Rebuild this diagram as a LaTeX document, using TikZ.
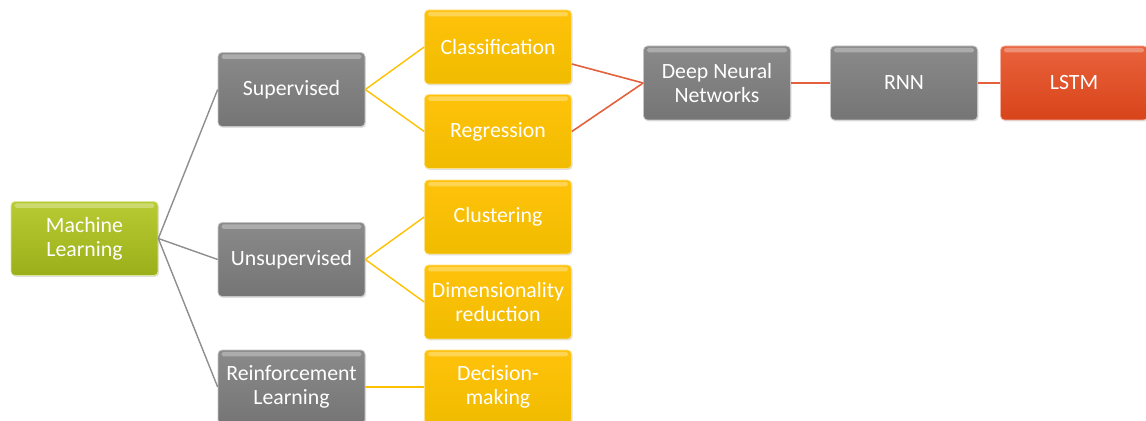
\documentclass[tikz,border=0pt]{standalone}
\usepackage{fontspec}
\setmainfont{Carlito}
\usetikzlibrary{calc,shadows}

\definecolor{gruenoben}{HTML}{B9CB33}
\definecolor{gruenunten}{HTML}{9AAF1A}
\definecolor{grauoben}{HTML}{8A8A8A}
\definecolor{grauunten}{HTML}{757575}
\definecolor{gelboben}{HTML}{FFC20A}
\definecolor{gelbunten}{HTML}{F0BC00}
\definecolor{rotoben}{HTML}{E9623C}
\definecolor{rotunten}{HTML}{D8441A}
\definecolor{linieGrau}{HTML}{8E8E8E}
\definecolor{linieGelb}{HTML}{FFC000}
\definecolor{linieRot}{HTML}{E2603A}

\tikzset{
  kasten/.style={rectangle, rounded corners=2.3pt, minimum width=2.94cm,
    minimum height=1.48cm, inner sep=1pt, align=center, text=white,
    font=\fontsize{12.4}{13.6}\selectfont,
    drop shadow={shadow xshift=0.6pt, shadow yshift=-0.8pt, opacity=0.25},
    path picture={\fill[white, opacity=0.3, rounded corners=1pt]
      ($(path picture bounding box.north west)+(2pt,-1pt)$) rectangle
      ($(path picture bounding box.north east)+(-2pt,-3.6pt)$);}},
  gruenbox/.style={kasten, top color=gruenoben, bottom color=gruenunten, draw=gruenoben!50!white},
  graubox/.style={kasten, top color=grauoben, bottom color=grauunten, draw=grauoben!50!white},
  gelbbox/.style={kasten, top color=gelboben, bottom color=gelbunten, draw=gelboben!50!white},
  rotbox/.style={kasten, top color=rotoben, bottom color=rotunten, draw=rotoben!50!white},
  astGrau/.style={draw=linieGrau, line width=0.8pt},
  astGelb/.style={draw=linieGelb, line width=0.8pt},
  astRot/.style={draw=linieRot, line width=0.9pt}
}

\begin{document}
\begin{tikzpicture}[x=0.02cm, y=-0.02cm]
  \useasboundingbox (0,0) rectangle (1146,421);

  % Wurzel
  \node[gruenbox] (ml) at (84.5,238.5) {Machine\\Learning};

  % Lernarten
  \node[graubox] (sup)   at (291.5,89.5)  {Supervised};
  \node[graubox] (unsup) at (291.5,259.5) {Unsupervised};
  \node[graubox] (reinf) at (291.5,387)   {Reinforcement\\Learning};

  % Aufgaben
  \node[gelbbox] (cls) at (498,47)    {Classification};
  \node[gelbbox] (reg) at (498,131.5) {Regression};
  \node[gelbbox] (clu) at (498,217)   {Clustering};
  \node[gelbbox] (dim) at (498,302)   {Dimensionality\\reduction};
  \node[gelbbox] (dec) at (498,387)   {Decision-\\making};

  % Netze
  \node[graubox] (dnn)  at (717,83)  {Deep Neural\\Networks};
  \node[graubox] (rnn)  at (904,83)  {RNN};
  \node[rotbox]  (lstm) at (1074,83) {LSTM};

  % Verbindungen
  \draw[astGrau] (ml.east) -- (sup.west);
  \draw[astGrau] (ml.east) -- (unsup.west);
  \draw[astGrau] (ml.east) -- (reinf.west);

  \draw[astGelb] (sup.east) -- (cls.west);
  \draw[astGelb] (sup.east) -- (reg.west);
  \draw[astGelb] (unsup.east) -- (clu.west);
  \draw[astGelb] (unsup.east) -- (dim.west);
  \draw[astGelb] (reinf.east) -- (dec.west);

  \draw[astRot] ($(cls.east)+(0,17)$) -- (dnn.west);
  \draw[astRot] (reg.east) -- (dnn.west);
  \draw[astRot] (dnn.east) -- (rnn.west);
  \draw[astRot] (rnn.east) -- (lstm.west);
\end{tikzpicture}
\end{document}
